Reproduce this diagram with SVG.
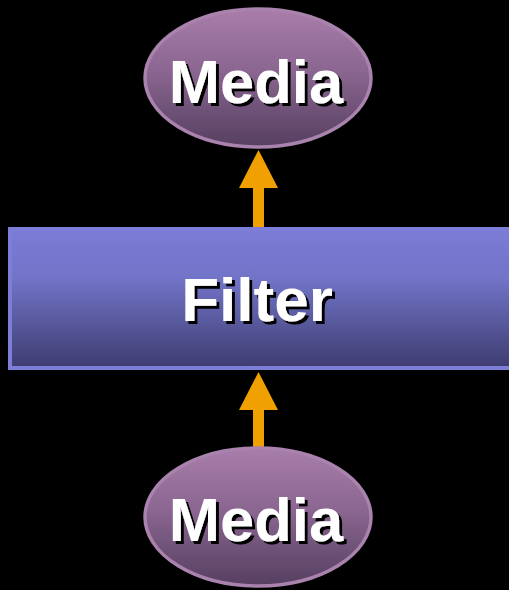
<svg xmlns="http://www.w3.org/2000/svg" width="509" height="590" viewBox="0 0 509 590">
  <defs>
    <linearGradient id="mediaFill" x1="0" y1="0" x2="0" y2="1">
      <stop offset="0" stop-color="#a87ea9"/>
      <stop offset="0.45" stop-color="#8a6690"/>
      <stop offset="1" stop-color="#563f60"/>
    </linearGradient>
    <linearGradient id="filterFill" x1="0" y1="0" x2="0" y2="1">
      <stop offset="0" stop-color="#7a7cd6"/>
      <stop offset="0.35" stop-color="#7274c8"/>
      <stop offset="1" stop-color="#3e3c70"/>
    </linearGradient>
    <filter id="shadow" x="-10%" y="-10%" width="130%" height="140%">
      <feOffset in="SourceAlpha" dx="2.5" dy="2.5" result="off"/>
      <feFlood flood-color="#000"/>
      <feComposite in2="off" operator="in" result="sh"/>
      <feMerge>
        <feMergeNode in="sh"/>
        <feMergeNode in="SourceGraphic"/>
      </feMerge>
    </filter>
  </defs>
  <style>
    .media { fill: url(#mediaFill); stroke: #a982ad; stroke-width: 3.5; }
    .filter { fill: url(#filterFill); stroke: #7c7ed8; stroke-width: 4; }
    .label { font-family: "Liberation Sans", Arial, sans-serif; font-weight: bold; fill: #ffffff; text-anchor: middle; filter: url(#shadow); }
    .arrow { fill: #f0a000; }
  </style>
  <rect width="509" height="590" fill="#000"/>

  <!-- connectors: upward arrows from source media to filter, and filter to output media -->
  <g id="connectors">
    <polygon class="arrow" points="253,228 264,228 264,188 278,188 258.5,150 239,188 253,188"/>
    <polygon class="arrow" points="253,447 264,447 264,410 278,410 258.5,372 239,410 253,410"/>
  </g>

  <g id="media-out">
    <ellipse class="media" cx="258" cy="78" rx="113" ry="69"/>
    <text class="label" x="256" y="103" font-size="61.5">Media</text>
  </g>

  <g id="filter">
    <rect class="filter" x="10" y="229" width="510" height="139"/>
    <text class="label" x="257" y="321" font-size="62">Filter</text>
  </g>

  <g id="media-in">
    <ellipse class="media" cx="258" cy="517" rx="113" ry="69"/>
    <text class="label" x="256" y="541" font-size="61.5">Media</text>
  </g>
</svg>
